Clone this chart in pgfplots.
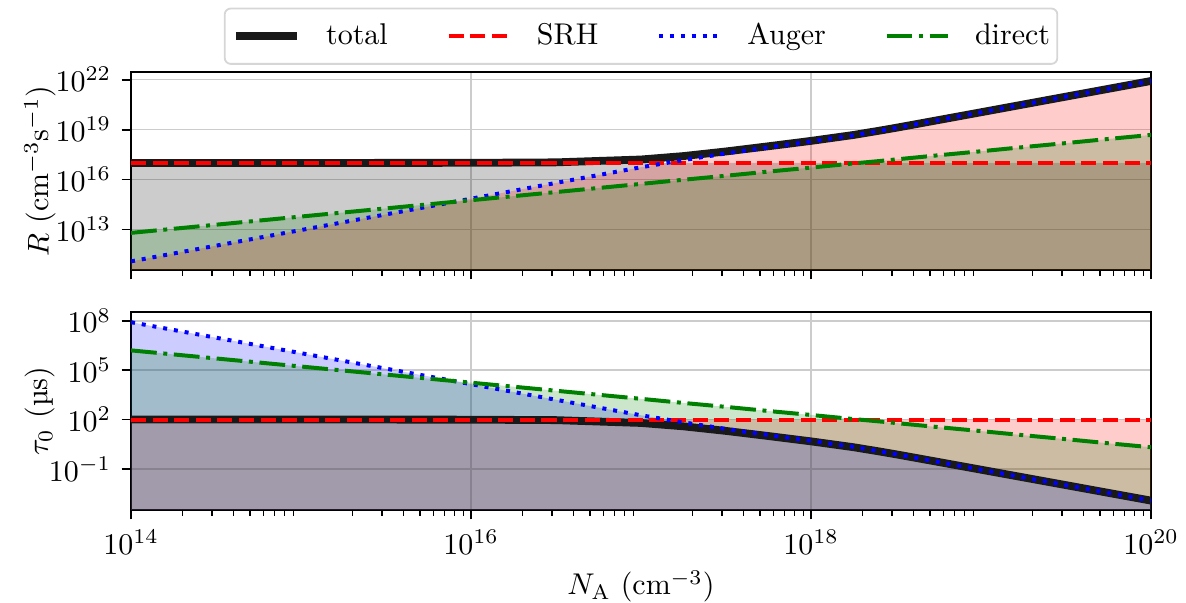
\documentclass[border=0pt]{standalone}
\usepackage{pgfplots}
\pgfplotsset{compat=1.18}
\usepackage{pgfplotstable}

\definecolor{mplgreen}{rgb}{0,0.5,0}
\definecolor{totalc}{rgb}{0.1,0.1,0.1}

% Recombination rates (cm^-3 s^-1) versus acceptor density N_A (cm^-3)
\pgfplotstableread{
NA        SRH    Auger      direct    total
1e14      1e17   1.230e11   6.31e12   1.0001e17
3.162e14  1e17   1.072e12   1.950e13  1.0002e17
1e15      1e17   9.33e12    6.03e13   1.0007e17
3.162e15  1e17   8.13e13    1.862e14  1.0027e17
1e16      1e17   7.08e14    5.75e14   1.0128e17
3.162e16  1e17   6.31e15    1.778e15  1.081e17
1e17      1e17   5.50e16    5.50e15   1.605e17
1.778e17  1e17   1.479e17   9.77e15   2.577e17
3.162e17  1e17   3.715e17   1.698e16  4.885e17
5.623e17  1e17   8.71e17    3.02e16   1.001e18
1e18      1e17   1.950e18   5.25e16   2.103e18
1.778e18  1e17   4.571e18   9.33e16   4.764e18
2.512e18  1e17   8.32e18    1.288e17  8.547e18
3.162e18  1e17   1.259e19   1.622e17  1.285e19
5.623e18  1e17   3.715e19   2.884e17  3.754e19
1e19      1e17   1.096e20   5.01e17   1.102e20
1.778e19  1e17   3.236e20   8.91e17   3.246e20
3.162e19  1e17   9.55e20    1.549e18  9.566e20
5.623e19  1e17   2.818e21   2.754e18  2.821e21
1e20      1e17   8.32e21    4.79e18   8.325e21
}\rates

% Lifetimes (microseconds) versus acceptor density N_A (cm^-3)
\pgfplotstableread{
NA        SRH   Auger      direct    total
1e14      100   8.13e7     1.585e6   99.99
3.162e14  100   9.33e6     5.13e5    99.98
1e15      100   1.072e6    1.660e5   99.93
3.162e15  100   1.230e5    5.37e4    99.73
1e16      100   1.413e4    1.738e4   98.74
3.162e16  100   1585       5620      92.5
1e17      100   181.8      1818      62.3
1.778e17  100   67.6       1023      38.8
3.162e17  100   26.9       589       20.47
5.623e17  100   11.48      331       9.99
1e18      100   5.13       190.5     4.755
1.778e18  100   2.188      107.2     2.099
2.512e18  100   1.202      77.6      1.170
3.162e18  100   0.794      61.7      0.778
5.623e18  100   0.269      34.7      0.2664
1e19      100   0.0912     19.95     0.0907
1.778e19  100   0.0309     11.22     0.0308
3.162e19  100   0.01047    6.46      0.01045
5.623e19  100   0.00355    3.63      0.003545
1e20      100   0.001202   2.088     0.001201
}\lifetimes

\tikzset{
  totalline/.style={totalc, line width=2.6pt},
  srhline/.style={red, line width=1.33pt, dash pattern=on 5pt off 2.2pt},
  augerline/.style={blue, line width=1.33pt, dash pattern=on 1.33pt off 2.3pt},
  directline/.style={mplgreen, line width=1.33pt, dash pattern=on 8.6pt off 2.2pt on 1.33pt off 2.2pt},
}

\pgfplotsset{
  legend image code/.code={\draw[#1] (0pt,0pt) -- (20.5pt,0pt);},
  every axis/.append style={
    scale only axis, width=340pt, height=66pt,
    xmode=log, ymode=log, xmin=1e14, xmax=1e20,
    log origin y=infty,
    xtick={1e14,1e16,1e18,1e20},
    minor xtick={2e14,3e14,4e14,5e14,6e14,7e14,8e14,9e14,
                 2e15,3e15,4e15,5e15,6e15,7e15,8e15,9e15,
                 2e16,3e16,4e16,5e16,6e16,7e16,8e16,9e16,
                 2e17,3e17,4e17,5e17,6e17,7e17,8e17,9e17,
                 2e18,3e18,4e18,5e18,6e18,7e18,8e18,9e18,
                 2e19,3e19,4e19,5e19,6e19,7e19,8e19,9e19},
    yminorticks=false,
    tick pos=left, tick align=outside,
    major tick length=3.1pt, minor tick length=1.9pt,
    tick style={black, line width=0.6pt},
    minor tick style={black, line width=0.45pt},
    grid=major, major grid style={draw=black!20, line width=0.55pt},
    axis line style={line width=0.7pt, black},
  },
  every axis y label/.style={at={(axis description cs:-0.089,0.5)}, rotate=90, anchor=center},
  every axis x label/.style={at={(axis description cs:0.5,0)}, yshift=-25.5pt, anchor=center},
}

\begin{document}
\begin{tikzpicture}
\path[use as bounding box] (-43.67pt,-31pt) rectangle (351.67pt,170pt);

% upper panel: recombination rates
\begin{axis}[at={(0pt,80pt)}, anchor=south west,
  ymin=3.72e10, ymax=2.88e22,
  ytick={1e13,1e16,1e19,1e22},
  xticklabels={},
  ylabel={$R$ (cm$^{-3}$s$^{-1}$)},
  legend columns=4,
  legend style={at={(0.5,1)}, anchor=south, yshift=2.4pt,
    draw=black!16, line width=0.6pt, rounded corners=2pt, fill=white,
    inner xsep=2.4pt, inner ysep=3.6pt,
    nodes={inner xsep=0pt, inner ysep=1.3pt},
    /tikz/every odd column/.append style={column sep=8.3pt},
    /tikz/every even column/.append style={column sep=19.6pt}},
]
\addplot[draw=none, fill=black, fill opacity=0.2, forget plot] table[x=NA, y=SRH]{\rates} \closedcycle;
\addplot[draw=none, fill=red, fill opacity=0.2, forget plot] table[x=NA, y=Auger]{\rates} \closedcycle;
\addplot[draw=none, fill=mplgreen, fill opacity=0.2, forget plot] table[x=NA, y=direct]{\rates} \closedcycle;
\addplot[totalline] table[x=NA, y=total]{\rates};
\addlegendentry{total}
\addplot[srhline] table[x=NA, y=SRH]{\rates};
\addlegendentry{SRH}
\addplot[augerline] table[x=NA, y=Auger]{\rates};
\addlegendentry{Auger}
\addplot[directline] table[x=NA, y=direct]{\rates};
\addlegendentry{direct}
\end{axis}

% lower panel: lifetimes
\begin{axis}[at={(0pt,0pt)}, anchor=south west,
  ymin=3.24e-4, ymax=3.39e8,
  ytick={1e-1,1e2,1e5,1e8},
  xlabel={$N_\mathrm{A}$ (cm$^{-3}$)},
  ylabel={$\tau_0$ (µs)},
]
\addplot[draw=none, fill=red, fill opacity=0.2, forget plot] table[x=NA, y=SRH]{\lifetimes} \closedcycle;
\addplot[draw=none, fill=blue, fill opacity=0.2, forget plot] table[x=NA, y=Auger]{\lifetimes} \closedcycle;
\addplot[draw=none, fill=mplgreen, fill opacity=0.2, forget plot] table[x=NA, y=direct]{\lifetimes} \closedcycle;
\addplot[totalline] table[x=NA, y=total]{\lifetimes};
\addplot[srhline] table[x=NA, y=SRH]{\lifetimes};
\addplot[augerline] table[x=NA, y=Auger]{\lifetimes};
\addplot[directline] table[x=NA, y=direct]{\lifetimes};
\end{axis}
\end{tikzpicture}
\end{document}
